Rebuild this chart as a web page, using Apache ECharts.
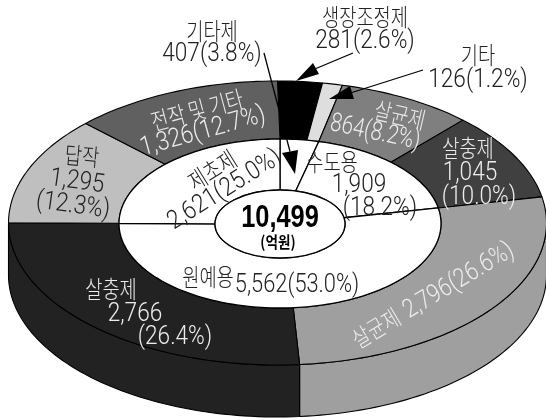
<!DOCTYPE html>
<html><head><meta charset="utf-8">
<style>html,body{margin:0;padding:0;background:#fff}#c{width:546px;height:420px}</style>
<script src="https://cdn.jsdelivr.net/npm/echarts@6/dist/echarts.min.js"></script>
</head><body><div id="c"></div>
<script>
// Data (clockwise from 12 o'clock)
const outerNames  = ['생장조정제','기타','살균제','살충제','살균제','살충제','답작','전작 및 기타'];
const outerValues = [281,126,864,1045,2796,2766,1295,1326];
const outerShares = [2.6,1.2,8.2,10.0,26.6,26.4,12.3,12.7];
const innerNames  = ['기타제','수도용','원예용','제초제'];
const innerValues = [407,1909,5562,2621];
const innerShares = [3.8,18.2,53.0,25.0];
const totalValue  = 10499;
const totalUnit   = '(억원)';

// Style and layout
const outerColors = ['#000000','#dedede','#7f7f7f','#404040','#9f9f9f','#222222','#bfbfbf','#606060'];
const outerE = {cx:277.5, cy:223, rx:269, ry:142};
const ringE  = {cx:280, cy:223.5, rx:161, ry:84.5};
const coreE  = {cx:280, cy:224, rx:65, ry:34};
const depth  = 52;
const NUM = 'Roboto,"Liberation Sans",sans-serif';
const BOLD = '"Liberation Sans",sans-serif';
const KOR = '"Noto Sans CJK KR",sans-serif';
const INK = '#222222', PALE = '#ececec';
const KS = 24, KX = .78, NS = 26, NX = .87;

const fmt = v => v.toLocaleString('en-US');
const share = s => '(' + s.toFixed(1) + '%)';
const vs = (v, s) => fmt(v) + share(s);

function spans(values){
  let acc = 0;
  return values.map((v,i) => { const a = acc/totalValue*360; acc += v; return [a, acc/totalValue*360, i]; });
}
const pt = (e,deg,dy=0) => { const t = deg*Math.PI/180; return [e.cx+e.rx*Math.sin(t), e.cy-e.ry*Math.cos(t)+dy]; };
function arc(e,a,b,dy=0){
  const n = Math.max(2, Math.ceil(Math.abs(b-a)/1.5)), out = [];
  for(let i=0;i<=n;i++) out.push(pt(e,a+(b-a)*i/n,dy));
  return out;
}
const stroke = (fill,w=1.1) => ({fill, stroke:'#000', lineWidth:w, lineJoin:'round'});

const K = (text,x,y,rot,color) => ({font:KOR,text,x,y,rot,size:KS,color,sx:KX,weight:'300'});
const N = (text,x,y,rot,color,sx) => ({font:NUM,text,x,y,rot,size:NS,color,sx:sx||NX,weight:'300'});
const labels = [
  K(innerNames[0],212,31,0,INK),
  N(fmt(innerValues[0])+share(innerShares[0]),212,54,0,INK),
  K(outerNames[0],365,17,0,INK),
  N(vs(outerValues[0],outerShares[0]),365,41,0,INK),
  K(outerNames[1],478,55,0,INK),
  N(vs(outerValues[1],outerShares[1]),478,80,0,INK),
  K(outerNames[7],197,110,15,PALE),
  N(vs(outerValues[7],outerShares[7]),203,132,15.5,PALE),
  K(outerNames[6],82,156,-5,INK),
  N(fmt(outerValues[6]),77,182,-8,INK),
  N(share(outerShares[6]),73,206,-8,INK),
  K(outerNames[2],400,115,-13,PALE),
  N(vs(outerValues[2],outerShares[2]),375,133,-12,PALE,.8),
  K(outerNames[3],468,148,0,PALE),
  N(fmt(outerValues[3]),470,173,0,PALE),
  N(share(outerShares[3]),479,197,0,PALE),
  K(innerNames[3],212,170,32,INK),
  N(vs(innerValues[3],innerShares[3]),225,190,32,INK),
  K(innerNames[1],332,162,0,INK),
  N(fmt(innerValues[1]),359,185,0,INK),
  N(share(innerShares[1]),380,208,0,INK),
  K(innerNames[2],208,277,0,INK),
  N(vs(innerValues[2],innerShares[2]),297,285,0,INK,.84),
  K(outerNames[5],111,289,0,PALE),
  N(fmt(outerValues[5]),135,314,0,PALE),
  N(share(outerShares[5]),175,337,0,PALE),
  K(outerNames[4],376,328,31,PALE),
  N(vs(outerValues[4],outerShares[4]),459,281,31,PALE,.84),
  {font:BOLD,text:fmt(totalValue),x:280,y:218,rot:0,size:31,color:'#000',sx:.82,weight:'bold'},
  {font:KOR,text:totalUnit,x:278,y:242,rot:0,size:16,color:'#000',sx:.85,weight:'bold'}
];
// Leader arrows: from, tip, two head back corners
const arrows = [
  {from:[353,53], tip:[296,81],  back:[[313,63],[319,74]]},
  {from:[423,70], tip:[329,99],  back:[[350,86],[354,99]]},
  {from:[264,53], tip:[295,174], back:[[282,153],[298,150]]}
];

const chart = echarts.init(document.getElementById('c'), null, {renderer:'canvas'});
chart.setOption({
  animation:false,
  backgroundColor:'#fff',
  series:[
    {
      type:'custom', coordinateSystem:'none', silent:true, z:1,
      data:spans(outerValues),
      renderItem:(p,api)=>{
        const a=Math.max(api.value(0),90), b=Math.min(api.value(1),270);
        if(b<=a) return null;
        const points=arc(outerE,a,b).concat(arc(outerE,b,a,depth));
        return {type:'polygon',shape:{points},style:stroke(outerColors[api.value(2)])};
      }
    },
    {
      type:'custom', coordinateSystem:'none', silent:true, z:2,
      data:spans(outerValues),
      renderItem:(p,api)=>{
        const a=api.value(0), b=api.value(1);
        const points=arc(outerE,a,b).concat(arc(ringE,b,a));
        return {type:'polygon',shape:{points},style:stroke(outerColors[api.value(2)])};
      }
    },
    {
      type:'custom', coordinateSystem:'none', silent:true, z:3,
      data:spans(innerValues),
      renderItem:(p,api)=>{
        const a=api.value(0), b=api.value(1);
        const points=arc(ringE,a,b).concat(arc(coreE,b,a));
        return {type:'polygon',shape:{points},style:stroke('#fff',1.3)};
      }
    },
    {
      type:'custom', coordinateSystem:'none', silent:true, z:4,
      data:[[totalValue]],
      renderItem:()=>({type:'ellipse',shape:{cx:coreE.cx,cy:coreE.cy,rx:coreE.rx,ry:coreE.ry},style:stroke('#fff',1.3)})
    },
    {
      type:'custom', coordinateSystem:'none', silent:true, z:5,
      data:labels.map((l,i)=>[i]),
      renderItem:(p,api)=>{
        const l=labels[api.value(0)];
        return {type:'text',x:l.x,y:l.y,rotation:l.rot*Math.PI/180,scaleX:l.sx,
          style:{text:l.text,x:0,y:0,align:'center',verticalAlign:'middle',fill:l.color,
            font:(l.weight||'normal')+' '+l.size+'px '+l.font}};
      }
    },
    {
      type:'custom', coordinateSystem:'none', silent:true, z:6,
      data:arrows.map((a,i)=>[i]),
      renderItem:(p,api)=>{
        const a=arrows[api.value(0)];
        return {type:'group',children:[
          {type:'line',shape:{x1:a.from[0],y1:a.from[1],x2:(a.back[0][0]+a.back[1][0])/2,y2:(a.back[0][1]+a.back[1][1])/2},style:{stroke:'#000',lineWidth:1.3}},
          {type:'polygon',shape:{points:[a.tip,a.back[0],a.back[1]]},style:{fill:'#000'}}
        ]};
      }
    }
  ]
});
</script></body></html>
